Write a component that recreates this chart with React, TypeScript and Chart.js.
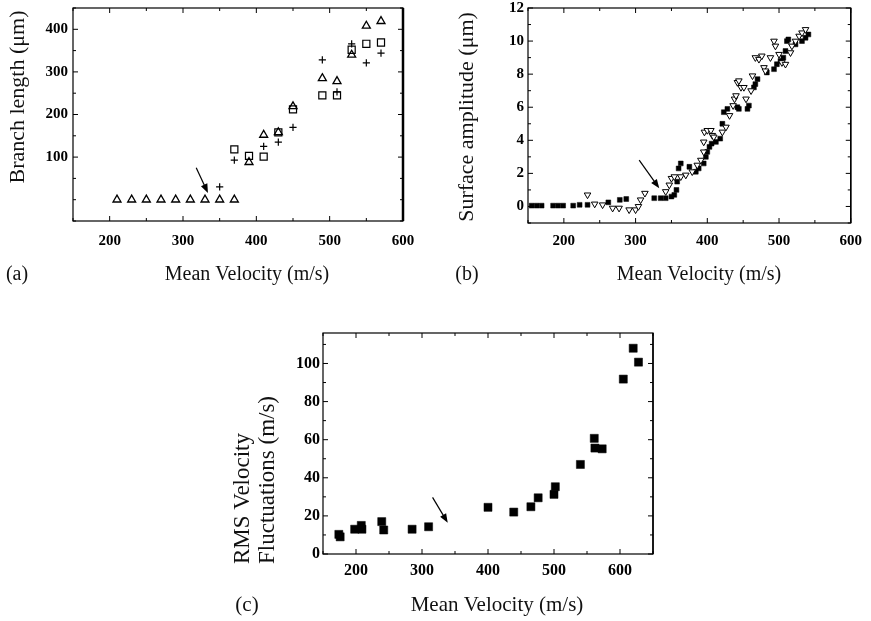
import React, { useEffect, useRef } from 'react';
import { Chart, registerables } from 'chart.js';

Chart.register(...registerables);

const FONT = "'Liberation Serif', 'Times New Roman', Times, serif";

// ---------- Panel (a): Branch length ----------
const aTriX = [210, 230, 250, 270, 290, 310, 330, 350, 370, 390, 410, 430, 450, 490, 510, 530, 550, 570];
const aTriY = [0, 0, 0, 0, 0, 0, 0, 0, 0, 88, 152, 158, 219, 285, 278, 340, 408, 419];
const aSqX = [370, 390, 410, 430, 450, 490, 510, 530, 550, 570];
const aSqY = [118, 103, 101, 158, 212, 245, 245, 352, 366, 369];
const aPlusX = [350, 370, 410, 430, 450, 490, 510, 530, 550, 570];
const aPlusY = [30, 93, 125, 135, 170, 328, 253, 366, 321, 344];
const aArrowX = [318, 334];
const aArrowY = [75, 16];
const aXTickLabels = [200, 300, 400, 500, 600];
const aYTickLabels = [100, 200, 300, 400];

// ---------- Panel (b): Surface amplitude ----------
const bSqX = [155, 162, 169, 185, 192, 199, 213, 222, 233, 262, 278, 287, 326, 335, 342, 350, 354, 357, 358, 360, 363, 375, 384, 388, 395, 398, 400, 403, 406, 412, 418, 421, 423, 428, 442, 444, 456, 458, 465, 467, 470, 483, 493, 497, 502, 506, 509, 511, 513, 523, 532, 537, 541];
const bSqY = [0.05, 0.05, 0.05, 0.05, 0.05, 0.05, 0.05, 0.1, 0.1, 0.25, 0.4, 0.45, 0.5, 0.5, 0.5, 0.6, 0.7, 1.0, 1.5, 2.3, 2.6, 2.4, 2.1, 2.3, 2.6, 3.0, 3.3, 3.6, 3.8, 3.9, 4.1, 5.0, 5.7, 5.9, 6.0, 5.9, 5.9, 6.1, 7.2, 7.4, 7.7, 8.1, 8.3, 8.6, 8.8, 9.0, 9.4, 10.0, 10.1, 9.8, 10.0, 10.2, 10.4];
const bTriX = [233, 243, 254, 268, 277, 291, 300, 304, 307, 313, 342, 347, 350, 354, 363, 370, 379, 386, 391, 395, 395, 396, 400, 405, 407, 409, 421, 426, 431, 436, 438, 440, 442, 444, 447, 451, 454, 461, 463, 467, 472, 476, 479, 481, 488, 493, 495, 500, 504, 509, 516, 518, 523, 528, 532, 537];
const bTriY = [0.7, 0.15, 0.1, -0.1, -0.1, -0.2, -0.2, 0.0, 0.4, 0.8, 0.9, 1.3, 1.7, 1.8, 1.8, 1.9, 2.1, 2.5, 2.8, 3.3, 3.9, 4.5, 4.6, 4.6, 4.3, 4.2, 4.5, 4.8, 5.5, 6.1, 6.5, 6.7, 7.5, 7.6, 7.2, 7.2, 6.5, 7.0, 7.9, 9.0, 8.9, 9.1, 8.4, 8.2, 9.0, 10.0, 9.7, 9.2, 8.7, 8.6, 9.3, 9.7, 10.0, 10.3, 10.5, 10.7];
const bArrowX = [305, 333];
const bArrowY = [2.8, 1.1];
const bXTickLabels = [200, 300, 400, 500, 600];
const bYTickLabels = [0, 2, 4, 6, 8, 10, 12];

// ---------- Panel (c): RMS velocity fluctuations ----------
const cX = [174, 176, 198, 208, 209, 239, 242, 285, 310, 400, 439, 465, 476, 500, 502, 540, 561, 562, 573, 605, 620, 628];
const cY = [10.3, 9, 13, 15, 13, 17, 12.6, 13, 14.3, 24.5, 22, 24.8, 29.5, 31.3, 35.3, 47, 60.7, 55.6, 55.2, 91.8, 108, 100.7];
const cArrowX = [316, 339];
const cArrowY = [29.7, 16.4];
const cXTickLabels = [200, 300, 400, 500, 600];
const cYTickLabels = [0, 20, 40, 60, 80, 100];

// ---------- layout (page pixels) ----------
const W = 871;
const H = 621;
const XH = 40;

type TextItem = { text: string; x: number; y: number; size: number; rotate?: boolean; align?: CanvasTextAlign };

type PanelCfg = {
  box: { left: number; top: number; w: number; h: number };
  area: { l: number; t: number; r: number; b: number };
  x: { min: number; max: number; step: number; labels: number[]; pad: number };
  y: { min: number; max: number; step: number; labels: number[]; pad: number };
  tickSize: number;
  datasets: any[];
  arrowX: number[];
  arrowY: number[];
  texts: TextItem[];
  rightWidth: number;
};

const xy = (xs: number[], ys: number[]) => xs.map((x, i) => ({ x, y: ys[i] }));

const panels: PanelCfg[] = [
  {
    box: { left: 0, top: -30, w: 440, h: 330 },
    area: { l: 73, t: 8, r: 403, b: 221 },
    x: { min: 150, max: 600, step: 50, labels: aXTickLabels, pad: 11 },
    y: { min: -50, max: 450, step: 50, labels: aYTickLabels, pad: 5 },
    tickSize: 15,
    datasets: [
      { data: xy(aTriX, aTriY), pointStyle: 'triangle', pointRadius: 4.6, borderWidth: 1.3, borderColor: '#000', backgroundColor: 'rgba(255,255,255,0)' },
      { data: xy(aSqX, aSqY), pointStyle: 'rect', pointRadius: 5, borderWidth: 1.2, borderColor: '#000', backgroundColor: 'rgba(255,255,255,0)' },
      { data: xy(aPlusX, aPlusY), pointStyle: 'cross', pointRadius: 3.6, borderWidth: 1.2, borderColor: '#000', backgroundColor: '#000' },
    ],
    arrowX: aArrowX,
    arrowY: aArrowY,
    texts: [
      { text: 'Branch length (\u03bcm)', x: 18, y: 97, size: 22, rotate: true },
      { text: 'Mean Velocity (m/s)', x: 247, y: 275, size: 20 },
      { text: '(a)', x: 17, y: 275, size: 20 },
    ],
    rightWidth: 2.5,
  },
  {
    box: { left: 440, top: -30, w: 431, h: 330 },
    area: { l: 528, t: 8, r: 852, b: 223 },
    x: { min: 150, max: 600, step: 50, labels: bXTickLabels, pad: 9 },
    y: { min: -1, max: 12, step: 1, labels: bYTickLabels, pad: 4 },
    tickSize: 15,
    datasets: [
      { data: xy(bTriX, bTriY), pointStyle: 'triangle', rotation: 180, pointRadius: 3.8, borderWidth: 1, borderColor: '#000', backgroundColor: '#fff' },
      { data: xy(bSqX, bSqY), pointStyle: 'rect', pointRadius: 3.4, borderWidth: 0.5, borderColor: '#000', backgroundColor: '#000' },
    ],
    arrowX: bArrowX,
    arrowY: bArrowY,
    texts: [
      { text: 'Surface amplitude (\u03bcm)', x: 467, y: 117, size: 22, rotate: true },
      { text: 'Mean Velocity (m/s)', x: 699, y: 275, size: 20 },
      { text: '(b)', x: 467, y: 275, size: 20 },
    ],
    rightWidth: 1.5,
  },
  {
    box: { left: 220, top: 300, w: 440, h: 321 },
    area: { l: 323, t: 333, r: 653, b: 554 },
    x: { min: 150, max: 650, step: 50, labels: cXTickLabels, pad: 7 },
    y: { min: 0, max: 116, step: 10, labels: cYTickLabels, pad: 3 },
    tickSize: 16,
    datasets: [
      { data: xy(cX, cY), pointStyle: 'rect', pointRadius: 5.7, borderWidth: 0.5, borderColor: '#000', backgroundColor: '#000' },
    ],
    arrowX: cArrowX,
    arrowY: cArrowY,
    texts: [
      { text: 'RMS Velocity', x: 243, y: 564, size: 23, rotate: true, align: 'left' },
      { text: 'Fluctuations (m/s)', x: 268, y: 564, size: 23, rotate: true, align: 'left' },
      { text: 'Mean Velocity (m/s)', x: 497, y: 605, size: 21 },
      { text: '(c)', x: 247, y: 605, size: 21 },
    ],
    rightWidth: 1.5,
  },
];

function makeDeco(cfg: PanelCfg) {
  return {
    id: 'deco',
    afterDraw(chart: any) {
      const ctx: CanvasRenderingContext2D = chart.ctx;
      const { left, right, top, bottom } = chart.chartArea;
      const xs = chart.scales.x;
      const ys = chart.scales.y;
      ctx.save();
      ctx.strokeStyle = '#000';
      ctx.fillStyle = '#000';
      ctx.lineWidth = 1.2;
      ctx.strokeRect(left, top, right - left, bottom - top);
      ctx.lineWidth = cfg.rightWidth;
      ctx.beginPath();
      ctx.moveTo(right, top);
      ctx.lineTo(right, bottom);
      ctx.stroke();
      ctx.lineWidth = 1;
      ctx.beginPath();
      xs.ticks.forEach((t: any) => {
        const px = xs.getPixelForValue(t.value);
        const len = t.label ? 5 : 3;
        ctx.moveTo(px, bottom);
        ctx.lineTo(px, bottom - len);
        ctx.moveTo(px, top);
        ctx.lineTo(px, top + len);
      });
      ys.ticks.forEach((t: any) => {
        const py = ys.getPixelForValue(t.value);
        const len = t.label ? 5 : 3;
        ctx.moveTo(left, py);
        ctx.lineTo(left + len, py);
        ctx.moveTo(right, py);
        ctx.lineTo(right - len, py);
      });
      ctx.stroke();

      // arrow (data coordinates)
      const x1 = xs.getPixelForValue(cfg.arrowX[0]);
      const y1 = ys.getPixelForValue(cfg.arrowY[0]);
      const x2 = xs.getPixelForValue(cfg.arrowX[1]);
      const y2 = ys.getPixelForValue(cfg.arrowY[1]);
      const a = Math.atan2(y2 - y1, x2 - x1);
      const L = 9;
      const hw = 3.5;
      ctx.lineWidth = 1.2;
      ctx.beginPath();
      ctx.moveTo(x1, y1);
      ctx.lineTo(x2 - Math.cos(a) * L * 0.6, y2 - Math.sin(a) * L * 0.6);
      ctx.stroke();
      ctx.beginPath();
      ctx.moveTo(x2, y2);
      ctx.lineTo(x2 - L * Math.cos(a) + hw * Math.sin(a), y2 - L * Math.sin(a) - hw * Math.cos(a));
      ctx.lineTo(x2 - L * Math.cos(a) - hw * Math.sin(a), y2 - L * Math.sin(a) + hw * Math.cos(a));
      ctx.closePath();
      ctx.fill();

      // titles and panel labels
      ctx.fillStyle = '#111';
      ctx.textBaseline = 'middle';
      cfg.texts.forEach((t) => {
        ctx.save();
        ctx.font = `${t.size}px ${FONT}`;
        ctx.translate(t.x - cfg.box.left, t.y - cfg.box.top);
        if (t.rotate) ctx.rotate(-Math.PI / 2);
        ctx.textAlign = t.align || 'center';
        ctx.fillText(t.text, 0, 0);
        ctx.restore();
      });
      ctx.restore();
    },
  };
}

function Panel({ cfg }: { cfg: PanelCfg }) {
  const ref = useRef<HTMLCanvasElement | null>(null);
  useEffect(() => {
    if (!ref.current) return;
    const { area, box } = cfg;
    const cl = area.l - box.left;
    const ct = area.t - box.top;
    const cr = area.r - box.left;
    const cb = area.b - box.top;
    const tickFontX = { family: FONT, size: cfg.tickSize, weight: 'bold' as const };
    const tickFontY = { family: FONT, size: cfg.tickSize, weight: 'bold' as const };
    const label = (labels: number[]) => (v: any) => {
      const n = Math.round(Number(v) * 1000) / 1000;
      return labels.indexOf(n) >= 0 ? String(n) : '';
    };
    const chart = new Chart(ref.current, {
      type: 'scatter',
      data: { datasets: cfg.datasets },
      options: {
        responsive: false,
        animation: false,
        events: [],
        layout: {
          padding: {
            left: 0,
            top: ct,
            right: box.w - cr,
            bottom: box.h - cb - XH,
          },
        },
        plugins: { legend: { display: false }, tooltip: { enabled: false } },
        scales: {
          x: {
            type: 'linear',
            position: 'bottom',
            min: cfg.x.min,
            max: cfg.x.max,
            afterFit: (s: any) => {
              s.height = XH;
            },
            grid: { display: false, drawTicks: false },
            border: { display: false },
            ticks: {
              stepSize: cfg.x.step,
              autoSkip: false,
              maxRotation: 0,
              includeBounds: false,
              padding: cfg.x.pad,
              color: '#000',
              font: tickFontX,
              callback: label(cfg.x.labels),
            },
          },
          y: {
            type: 'linear',
            position: 'left',
            min: cfg.y.min,
            max: cfg.y.max,
            afterFit: (s: any) => {
              s.width = cl;
            },
            grid: { display: false, drawTicks: false },
            border: { display: false },
            ticks: {
              stepSize: cfg.y.step,
              autoSkip: false,
              includeBounds: false,
              padding: cfg.y.pad,
              color: '#000',
              font: tickFontY,
              callback: label(cfg.y.labels),
            },
          },
        },
      } as any,
      plugins: [makeDeco(cfg)],
    });
    return () => chart.destroy();
  }, [cfg]);
  return (
    <canvas
      ref={ref}
      width={cfg.box.w}
      height={cfg.box.h}
      style={{ position: 'absolute', left: cfg.box.left, top: cfg.box.top, width: cfg.box.w, height: cfg.box.h }}
    />
  );
}

export default function App() {
  return (
    <div
      style={{
        position: 'absolute',
        left: 0,
        top: 0,
        width: W,
        height: H,
        overflow: 'hidden',
        background: '#fff',
      }}
    >
      {panels.map((p, i) => (
        <Panel key={i} cfg={p} />
      ))}
    </div>
  );
}
